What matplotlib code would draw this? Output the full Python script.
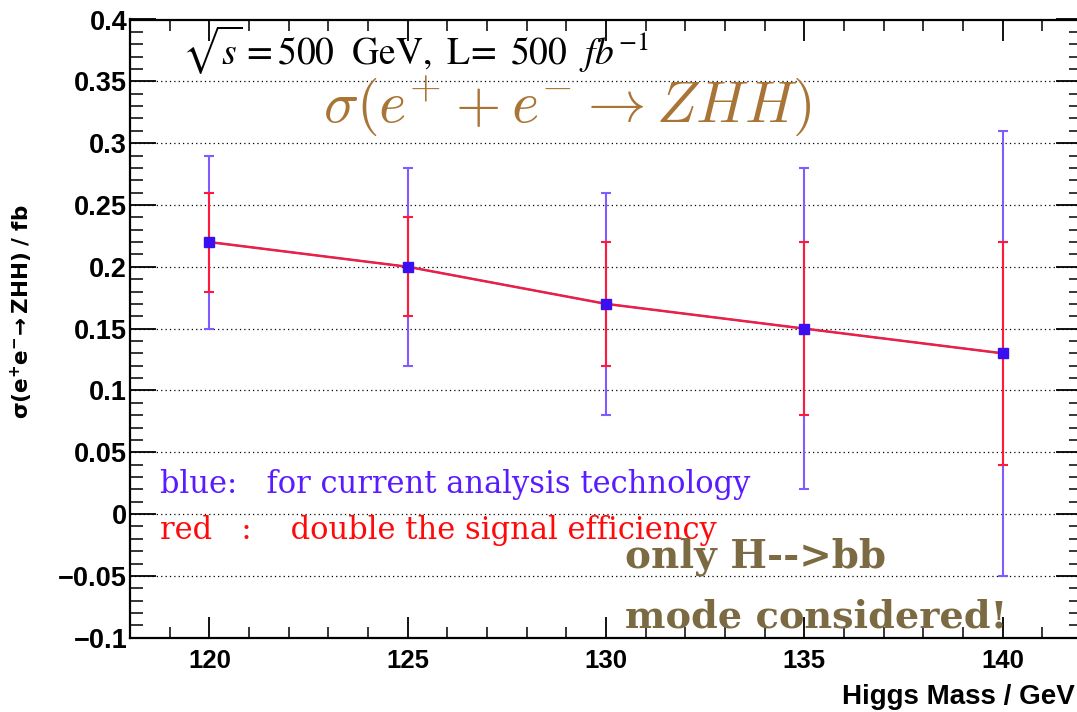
import matplotlib
matplotlib.use("Agg")
import matplotlib.pyplot as plt
import numpy as np
from matplotlib.ticker import MultipleLocator

# ---- data ----
higgs_mass = [120, 125, 130, 135, 140]
xsec = [0.22, 0.20, 0.17, 0.15, 0.13]
blue_low = [0.15, 0.12, 0.08, 0.02, -0.05]
blue_high = [0.29, 0.28, 0.26, 0.28, 0.31]
red_low = [0.18, 0.16, 0.12, 0.08, 0.04]
red_high = [0.26, 0.24, 0.22, 0.22, 0.22]
y_ticks = [-0.1, -0.05, 0, 0.05, 0.1, 0.15, 0.2, 0.25, 0.3, 0.35, 0.4]
y_tick_labels = ["\u22120.1", "\u22120.05", "0", "0.05", "0.1", "0.15", "0.2", "0.25", "0.3", "0.35", "0.4"]
x_ticks = [120, 125, 130, 135, 140]

W, H = 1077, 712
fig = plt.figure(figsize=(W / 100, H / 100), dpi=100)
plt.rcParams['mathtext.fontset'] = 'cm'

def fx(px):
    return px / W

def fy(py):
    return 1 - py / H

ax = fig.add_axes([fx(130), fy(637.7), fx(1082) - fx(130), fy(19.5) - fy(637.7)])
ax.set_xlim(118, 142)
ax.set_ylim(-0.1, 0.4)

x = np.array(higgs_mass)
y = np.array(xsec)
b_err = [y - np.array(blue_low), np.array(blue_high) - y]
r_err = [y - np.array(red_low), np.array(red_high) - y]

blue_c = '#7f5cff'
red_c = '#ff1a3c'

ax.errorbar(x, y, yerr=b_err, fmt='none', ecolor=blue_c, elinewidth=1.5,
            capsize=3.5, capthick=1.5, zorder=3)
ax.errorbar(x, y, yerr=r_err, fmt='none', ecolor=red_c, elinewidth=1.5,
            capsize=3.5, capthick=1.5, zorder=4)
ax.plot(x, y, color='#b0306a', lw=1.8, zorder=5)
ax.plot(x, y, color=red_c, lw=1.2, zorder=5)
ax.plot(x, y, linestyle='none', marker='s', markersize=7.5, color='#3a10f0',
        markeredgecolor='#3a10f0', zorder=6)

# grid
for yt in y_ticks[1:-1]:
    ax.axhline(yt, color='black', lw=0.9, linestyle=(0, (1, 2.5)), zorder=1)

# ticks
ax.set_yticks(y_ticks)
ax.set_yticklabels(y_tick_labels)
ax.yaxis.set_minor_locator(MultipleLocator(0.01))
ax.set_xticks(x_ticks)
ax.xaxis.set_minor_locator(MultipleLocator(1))
ax.tick_params(axis='y', which='major', direction='in', length=19, width=1.3,
               left=True, right=True, pad=2)
ax.tick_params(axis='y', which='minor', direction='in', length=9.5, width=1.1,
               left=True, right=True)
ax.tick_params(axis='x', which='major', direction='in', length=15, width=1.3,
               bottom=True, top=True, pad=8)
ax.tick_params(axis='x', which='minor', direction='in', length=8, width=1.1,
               bottom=True, top=True)
for lab in ax.get_xticklabels():
    lab.set_fontfamily('Liberation Sans')
    lab.set_fontweight('bold')
    lab.set_fontsize(18.5)
for lab in ax.get_yticklabels():
    lab.set_fontfamily('Liberation Sans')
    lab.set_fontweight('bold')
    lab.set_fontsize(19.5)
for s in ax.spines.values():
    s.set_linewidth(1.6)

# axis labels
fig.text(fx(1075), fy(697), 'Higgs Mass / GeV', fontsize=20, fontweight='bold',
         family='Liberation Sans', ha='right', va='center')
fig.text(fx(22), fy(312), r'$\mathbf{\sigma(e^{+}e^{-}\!\rightarrow ZHH)\ /\ fb}$',
         fontsize=15.5, rotation=90, ha='center', va='center',
         math_fontfamily='dejavusans')

# annotations
fig.text(fx(182), fy(50), r'$\sqrt{s}=\mathrm{500\ \ GeV,\ L\!=\ 500}\ \ fb^{-1}$',
         fontsize=27, ha='left', va='center', color='black',
         math_fontfamily='stix')
fig.text(fx(567), fy(106), r'$\sigma(e^{+}+e^{-}\rightarrow ZHH)$',
         fontsize=42, ha='center', va='center', color='#a97536')
fig.text(fx(160), fy(485), 'blue:   for current analysis technology',
         fontsize=22, family='DejaVu Serif', color='#5a1cff', ha='left', va='center')
fig.text(fx(160), fy(530), 'red   :    double the signal efficiency',
         fontsize=22, family='DejaVu Serif', color='#ff0a0a', ha='left', va='center')
fig.text(fx(625), fy(557), 'only H-->bb', fontsize=28, family='DejaVu Serif',
         fontweight='bold', color='#7b6a42', ha='left', va='center')
fig.text(fx(625), fy(617), 'mode considered!', fontsize=27.5, family='DejaVu Serif',
         fontweight='bold', color='#7b6a42', ha='left', va='center')

fig.savefig('out.png', dpi=100)
